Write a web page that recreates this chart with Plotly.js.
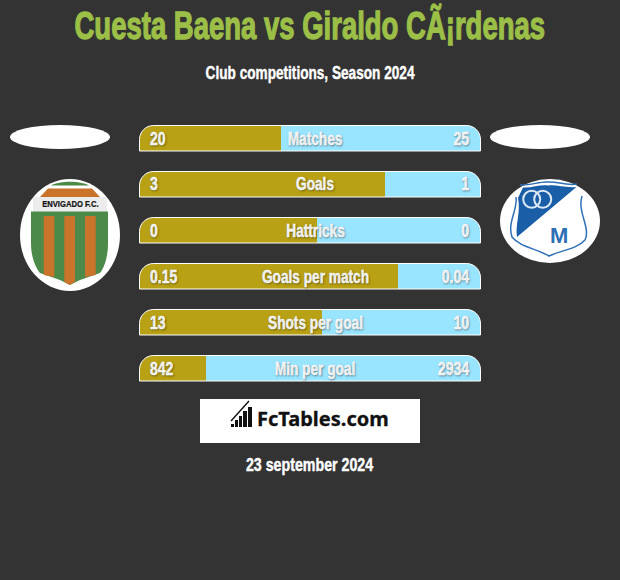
<!DOCTYPE html>
<html><head><meta charset="utf-8">
<script src="https://cdn.plot.ly/plotly-3.0.0.min.js"></script>
<style>html,body{margin:0;padding:0;background:#333333}</style></head>
<body><div id="chart" style="width:620px;height:580px"></div>
<script>
var categories = ["Matches","Goals","Hattricks","Goals per match","Shots per goal","Min per goal"];
var leftLabels = ["20","3","0","0.15","13","842"];
var rightLabels = ["25","1","0","0.04","10","2934"];
var goldShare = [0.415,0.72,0.52,0.757,0.535,0.196];
var blueShare = [0.585,0.28,0.48,0.243,0.465,0.804];

var W=620,H=580,BG="#333333",GOLD="#b8a114",BLUE="#99e4ff",FN="'Liberation Sans',sans-serif";
var X0=139,X1=481,Y0=115,STEP=46,BAR=26;
function px(x){return (x/W).toFixed(5);}
function py(y){return (1-y/H).toFixed(5);}
function P(list){return list.map(function(t){return typeof t==="string"?t:px(t[0])+","+py(t[1]);}).join(" ");}
function shp(d,fill,lc,lw,layer){return {type:"path",xref:"paper",yref:"paper",path:d,fillcolor:fill||"rgba(0,0,0,0)",line:{color:lc||"rgba(0,0,0,0)",width:lw||0},layer:layer||"above"};}
function ell(x0,y0,x1,y1,fill,lc,lw){return {type:"circle",xref:"paper",yref:"paper",x0:x0/W,x1:x1/W,y0:1-y0/H,y1:1-y1/H,fillcolor:fill,line:{color:lc||"rgba(0,0,0,0)",width:lw||0},layer:"above"};}
function rect(x0,y0,x1,y1,fill){return {type:"rect",xref:"paper",yref:"paper",x0:x0/W,x1:x1/W,y0:1-y0/H,y1:1-y1/H,fillcolor:fill,line:{width:0},layer:"above"};}

var shapes=[];
categories.forEach(function(c,i){
  var t=Y0+10+i*STEP+0.5,b=t+BAR-0.5,l=X0+0.5,r=X1-0.5,R=14;
  var k=R*0.45;
  shapes.push(shp(P(["M",[X0-1,t-1],"L",[l+R,t-1],"L",[l+R,t],"C",[l+k,t],[l,t+k],[l,t+R],"L",[X0-1,t+R],"Z"]),BG));
  shapes.push(shp(P(["M",[X1+1,t-1],"L",[r-R,t-1],"L",[r-R,t],"C",[r-k,t],[r,t+k],[r,t+R],"L",[X1+1,t+R],"Z"]),BG));
  shapes.push(shp(P(["M",[l,b],"L",[l,t+R],"C",[l,t+k],[l+k,t],[l+R,t],"L",[r-R,t],"C",[r-k,t],[r,t+k],[r,t+R],"L",[r,b],"Z"]),null,"#ffffff",1));
});
shapes.push(ell(10,125,110,149,"#ffffff"));
shapes.push(ell(490,125,590,149,"#ffffff"));
// left badge
shapes.push(ell(20,179,120,291,"#ffffff"));
var GR="#4b8a48",OR="#c9742a";
shapes.push(shp(P(["M",[51,185.5],"C",[60,180.5],[80,180.5],[89,185.5],"Z"]),GR));
shapes.push(rect(33,197,107,212,"#ececec"));
shapes.push(shp(P(["M",[48,188.5],"L",[92,188.5],"L",[100,197],"L",[40,197],"Z"]),OR));
shapes.push(shp(P(["M",[31,211.5],"L",[108,211.5],"L",[108,243],"C",[108,258],[104,268],[100,273],"L",[80,280],"L",[70,285],"L",[60,280],"L",[40,273],"C",[36,268],[31,258],[31,243],"Z"]),GR));
shapes.push(shp(P(["M",[43.7,216],"L",[54.3,216],"L",[54.3,277],"L",[43.7,275],"Z"]),OR));
shapes.push(shp(P(["M",[64.3,216],"L",[75,216],"L",[75,282],"L",[69.7,285],"L",[64.3,282],"Z"]),OR));
shapes.push(shp(P(["M",[85,216],"L",[95.7,216],"L",[95.7,275],"L",[85,277],"Z"]),OR));
// right badge
var MB="#1a5ea8",LB="#2e6fb5";
shapes.push(ell(500,179,600,263,"#ffffff"));
shapes.push(shp(P(["M",[523,187.5],"C",[532,188],[540,184.5],[548,185.5],"C",[556,184.5],[566,188],[576.5,187],"L",[517,237],"C",[515,225],[521,212],[518,198],"Z"]),MB));
shapes.push(shp(P(["M",[520,185],"C",[530,186],[540,181],[548,182],"C",[556,181],[566,186],[577,184]]),null,LB,1.5));
shapes.push(shp(P(["M",[516,197],"C",[518,210],[507,222],[512,237],"C",[520,247],[535,248],[549,256],"C",[562,250],[577,249],[585,240],"C",[591,228],[577,212],[582,196]]),null,LB,1.5));
shapes.push(ell(523.2,190.8,540.2,207.8,"rgba(0,0,0,0)","#dce8f4",2));
shapes.push(ell(534.2,190.8,551.2,207.8,"rgba(0,0,0,0)","#dce8f4",2));
// FcTables box
shapes.push(rect(200,399,420,443,"#ffffff"));
[[231,234,424,427],[235,238,420,427],[239,242,416,427],[243,247,411,427],[248,252,407,427]].forEach(function(b){
  shapes.push(rect(b[0],b[2],b[1],b[3],"#111111"));
});
shapes.push(shp(P(["M",[231,421],"L",[249,401]]),null,"#111111",1.4));

var squeeze=[], weightStroke=[];
function txt(x,y,s,size,color,anchor,shadow,fam,sx,sw){
  var f={family:fam||FN,size:size,color:color,weight:700};
  if(shadow)f.shadow=shadow;
  squeeze.push(sx||1);weightStroke.push(sw||0);
  return {xref:"paper",yref:"paper",x:x/W,y:1-y/H,text:s,showarrow:false,xanchor:anchor||"center",yanchor:"middle",font:f,align:anchor||"center"};
}
var SH="1px 1px 2px rgba(0,0,0,0.35)";
var ann=[
  txt(310,26,"Cuesta Baena vs Giraldo C\u00c3\u00a1rdenas",39,"#9cbf47",null,null,null,0.705,1.3),
  txt(309.5,73,"Club competitions, Season 2024",18,"#ffffff",null,null,null,0.757,0.4),
  txt(309.5,465,"23 september 2024",18,"#ffffff",null,null,null,0.79,0.4),
  txt(323,418,"FcTables.com",20,"#111111","center",null,"'Noto Sans',sans-serif",1,0.3),
  txt(70,204,"ENVIGADO F.C.",8.5,"#111111","center",null,null,0.9,0.2),
  txt(559,235,"M",22,LB,"center")
];
categories.forEach(function(c,i){
  var y=Y0+10+i*STEP+13.5;
  ann.push(txt(315,y,c,18,"#ffffff","center",SH,null,0.76,0.45));
  ann.push(txt(148,y,leftLabels[i],18,"#ffffff","left",SH,null,0.78,0.45));
  ann.push(txt(471,y,rightLabels[i],18,"#ffffff","right",SH,null,0.78,0.45));
});

var data=[
 {type:"bar",orientation:"h",y:categories,x:goldShare,marker:{color:GOLD,line:{width:0}},hoverinfo:"skip",showlegend:false},
 {type:"bar",orientation:"h",y:categories,x:blueShare,marker:{color:BLUE,line:{width:0}},hoverinfo:"skip",showlegend:false}
];
var layout={
  width:W,height:H,margin:{l:0,r:0,t:0,b:0,pad:0},paper_bgcolor:BG,plot_bgcolor:BG,showlegend:false,
  barmode:"stack",bargap:20/46,
  xaxis:{domain:[X0/W,X1/W],range:[0,1],visible:false,fixedrange:true},
  yaxis:{domain:[1-(Y0+6*STEP)/H,1-Y0/H],type:"category",categoryorder:"array",categoryarray:categories,autorange:false,range:[5.5,-0.5],visible:false,fixedrange:true},
  shapes:shapes,annotations:ann
};
Plotly.newPlot("chart",data,layout,{displayModeBar:false,staticPlot:true}).then(function(){
  document.querySelectorAll("#chart .annotation").forEach(function(g){
    var i=+g.getAttribute("data-index"),t=g.querySelector("text");
    if(!t)return;
    var b=t.getBBox(),a=ann[i].xanchor;
    var cx=a==="left"?b.x:(a==="right"?b.x+b.width:b.x+b.width/2);
    t.setAttribute("transform","translate("+cx+",0) scale("+squeeze[i]+",1) translate("+(-cx)+",0)");
    if(weightStroke[i]){t.style.stroke=ann[i].font.color;t.style.strokeWidth=weightStroke[i]+"px";}
  });
});
</script></body></html>
